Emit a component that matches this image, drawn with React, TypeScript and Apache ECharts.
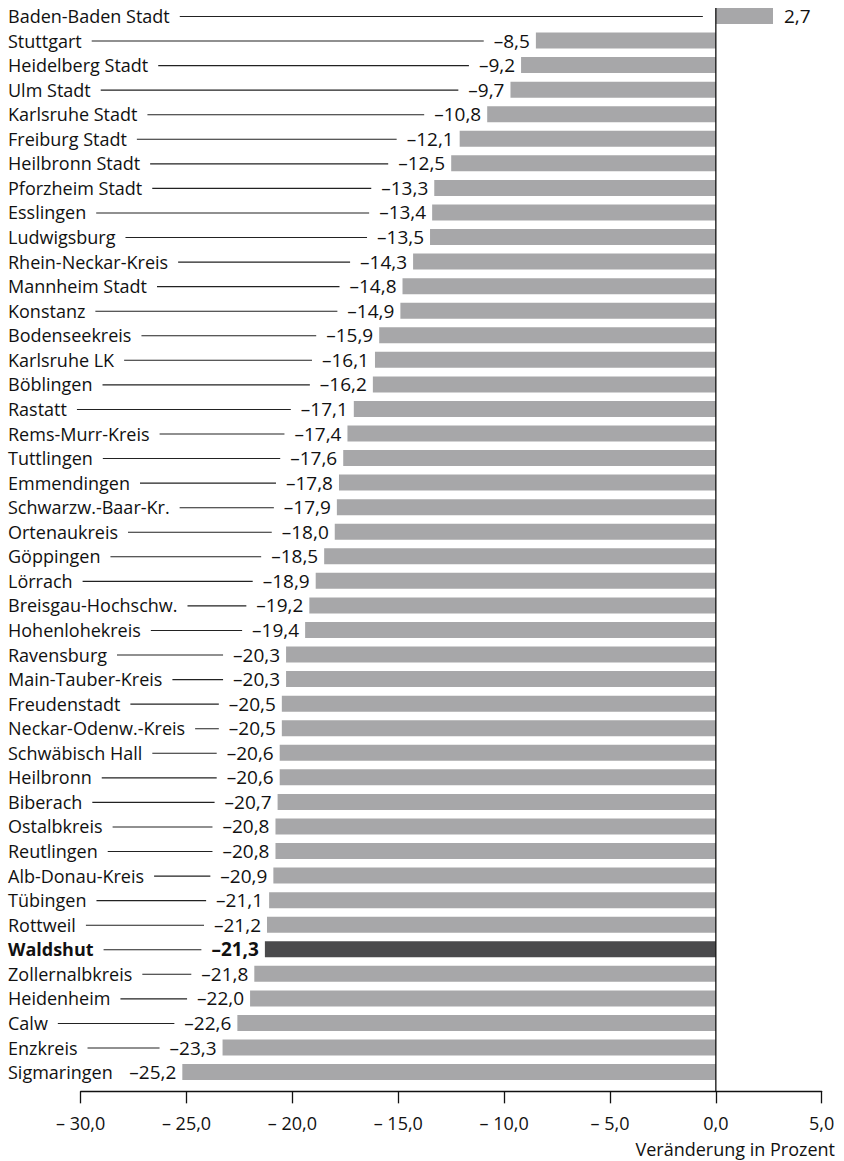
import React, { useEffect, useRef } from "react";
import * as echarts from "echarts";

const NAMES = [
  "Baden-Baden Stadt", "Stuttgart", "Heidelberg Stadt", "Ulm Stadt", "Karlsruhe Stadt",
  "Freiburg Stadt", "Heilbronn Stadt", "Pforzheim Stadt", "Esslingen", "Ludwigsburg",
  "Rhein-Neckar-Kreis", "Mannheim Stadt", "Konstanz", "Bodenseekreis", "Karlsruhe LK",
  "Böblingen", "Rastatt", "Rems-Murr-Kreis", "Tuttlingen", "Emmendingen",
  "Schwarzw.-Baar-Kr.", "Ortenaukreis", "Göppingen", "Lörrach", "Breisgau-Hochschw.",
  "Hohenlohekreis", "Ravensburg", "Main-Tauber-Kreis", "Freudenstadt", "Neckar-Odenw.-Kreis",
  "Schwäbisch Hall", "Heilbronn", "Biberach", "Ostalbkreis", "Reutlingen",
  "Alb-Donau-Kreis", "Tübingen", "Rottweil", "Waldshut", "Zollernalbkreis",
  "Heidenheim", "Calw", "Enzkreis", "Sigmaringen",
];

const VALUES = [
  2.7, -8.5, -9.2, -9.7, -10.8,
  -12.1, -12.5, -13.3, -13.4, -13.5,
  -14.3, -14.8, -14.9, -15.9, -16.1,
  -16.2, -17.1, -17.4, -17.6, -17.8,
  -17.9, -18.0, -18.5, -18.9, -19.2,
  -19.4, -20.3, -20.3, -20.5, -20.5,
  -20.6, -20.6, -20.7, -20.8, -20.8,
  -20.9, -21.1, -21.2, -21.3, -21.8,
  -22.0, -22.6, -23.3, -25.2,
];

const HIGHLIGHT = "Waldshut";
const X_MIN = -30;
const X_MAX = 5;
const X_STEP = 5;
const AXIS_TITLE = "Veränderung in Prozent";

const FONT_FAMILY = "'Open Sans', 'Noto Sans', sans-serif";
const FONT_SIZE = 18;
const VALUE_FONT_SIZE = 19;
const TEXT_COLOR = "#111111";
const BAR_COLOR = "#a7a7a9";
const HIGHLIGHT_COLOR = "#4a4a4c";

const fmtValue = (v: number) =>
  (v < 0 ? "\u2013" : "") + Math.abs(v).toFixed(1).replace(".", ",");
const fmtTick = (v: number) =>
  (v < 0 ? "\u2013 " : "") + Math.abs(v).toFixed(1).replace(".", ",");

export default function App() {
  const ref = useRef<HTMLDivElement>(null);

  useEffect(() => {
    if (!ref.current) return;
    const chart = echarts.init(ref.current, undefined, { renderer: "svg" });

    const rowTop = 3.7;
    const rowH = 24.56;
    const gridBottom = 1161 - (rowTop + rowH * NAMES.length);

    const option: any = {
      animation: false,
      backgroundColor: "#ffffff",
      textStyle: { fontFamily: FONT_FAMILY },
      grid: { left: 80.7, right: 844 - 821.7, top: rowTop, bottom: gridBottom, containLabel: false },
      xAxis: {
        type: "value",
        min: X_MIN,
        max: X_MAX,
        interval: X_STEP,
        position: "bottom",
        offset: 7,
        axisLine: { show: true, onZero: false, lineStyle: { color: TEXT_COLOR, width: 1.3 } },
        axisTick: { show: true, length: 12, inside: false, lineStyle: { color: TEXT_COLOR, width: 1.3 } },
        splitLine: { show: false },
        axisLabel: {
          margin: 23,
          color: TEXT_COLOR,
          fontSize: FONT_SIZE,
          fontFamily: FONT_FAMILY,
          formatter: (v: number) => fmtTick(v),
        },
      },
      yAxis: {
        type: "category",
        data: NAMES,
        inverse: true,
        axisLine: { show: false },
        axisTick: { show: false },
        axisLabel: { show: false },
        splitLine: { show: false },
      },
      graphic: [
        {
          type: "text",
          right: 9,
          top: 1140,
          style: {
            text: AXIS_TITLE,
            font: `${FONT_SIZE}px ${FONT_FAMILY}`,
            fill: TEXT_COLOR,
          },
        },
      ],
      series: [
        {
          type: "bar",
          barWidth: 16,
          data: VALUES.map((v, i) => ({
            value: v,
            itemStyle: { color: NAMES[i] === HIGHLIGHT ? HIGHLIGHT_COLOR : BAR_COLOR },
          })),
          silent: true,
          z: 2,
        },
        {
          type: "custom",
          z: 3,
          silent: true,
          encode: { x: 0, y: 1 },
          data: VALUES.map((v, i) => [v, i]),
          renderItem: (params: any, api: any) => {
            const idx = params.dataIndex;
            const v = api.value(0);
            const cat = api.value(1);
            const [xv, y] = api.coord([v, cat]);
            const [x0] = api.coord([0, cat]);
            const cs = params.coordSys;
            const bold = NAMES[idx] === HIGHLIGHT;
            const font = `${bold ? "bold " : ""}${FONT_SIZE}px ${FONT_FAMILY}`;
            const vfont = `${bold ? "bold " : ""}${VALUE_FONT_SIZE}px ${FONT_FAMILY}`;
            const children: any[] = [];
            if (idx === 0) {
              children.push({
                type: "line",
                shape: { x1: x0, y1: y - 8, x2: x0, y2: cs.y + cs.height + 7 },
                style: { stroke: TEXT_COLOR, lineWidth: 1.3 },
              });
            }
            const lineEnd = v < 0 ? xv - 10 : x0 - 13;
            children.push({
              type: "line",
              shape: { x1: 8, y1: y + 0.5, x2: lineEnd, y2: y + 0.5 },
              style: { stroke: "#222222", lineWidth: 1.1 },
            });
            children.push({
              type: "text",
              x: v < 0 ? xv - 6 : xv + 11,
              y: y,
              style: {
                text: fmtValue(v),
                font: vfont,
                fill: TEXT_COLOR,
                align: v < 0 ? "right" : "left",
                verticalAlign: "middle",
                backgroundColor: "#ffffff",
                padding: v < 0 ? [0, 0, 0, 10] : [0, 10, 0, 0],
              },
            });
            children.push({
              type: "text",
              x: 8,
              y: y,
              style: {
                text: NAMES[idx],
                font,
                fill: TEXT_COLOR,
                align: "left",
                verticalAlign: "middle",
                backgroundColor: "#ffffff",
                padding: [0, 10, 0, 0],
              },
            });
            return { type: "group", children };
          },
        },
      ],
    };

    chart.setOption(option);
    return () => chart.dispose();
  }, []);

  return (
    <div
      ref={ref}
      style={{ position: "absolute", left: 0, top: 0, width: 844, height: 1161 }}
    />
  );
}
